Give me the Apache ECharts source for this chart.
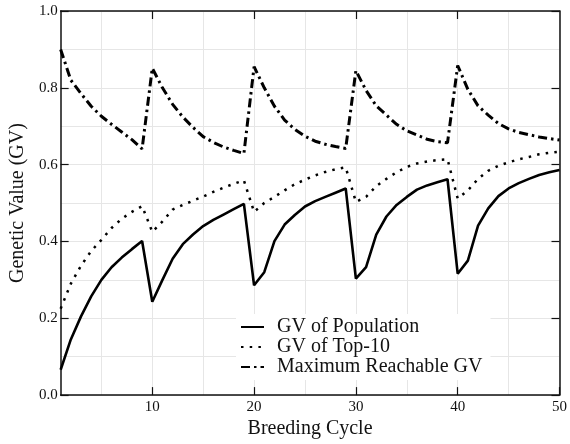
<!DOCTYPE html>
<html>
<head>
<meta charset="utf-8">
<script src="https://cdn.jsdelivr.net/npm/echarts@6/dist/echarts.min.js"></script>
<style>html,body{margin:0;padding:0;background:#fff}#c{width:570px;height:444px}</style>
</head>
<body>
<div id="c"></div>
<script>
// ---- data ----
const cycles = [1,2,3,4,5,6,7,8,9,10,11,12,13,14,15,16,17,18,19,20,21,22,23,24,25,26,27,28,29,30,31,32,33,34,35,36,37,38,39,40,41,42,43,44,45,46,47,48,49,50];
const gvPopulation = [
  0.066,0.145,0.205,0.257,0.300,0.333,0.358,0.380,0.401,
  0.243,0.300,0.355,0.393,0.418,0.440,0.456,0.470,0.484,0.498,
  0.286,0.320,0.401,0.444,0.469,0.491,0.505,0.516,0.527,0.538,
  0.303,0.333,0.418,0.465,0.495,0.516,0.535,0.546,0.554,0.562,
  0.316,0.350,0.441,0.486,0.518,0.538,0.552,0.563,0.573,0.580,0.586
];
const gvTop10 = [
  0.225,0.290,0.337,0.375,0.404,0.435,0.459,0.477,0.492,
  0.425,0.452,0.483,0.495,0.506,0.517,0.529,0.540,0.550,0.559,
  0.477,0.500,0.516,0.533,0.549,0.561,0.572,0.581,0.588,0.593,
  0.503,0.516,0.544,0.563,0.580,0.594,0.603,0.608,0.612,0.614,
  0.512,0.533,0.563,0.584,0.597,0.606,0.614,0.620,0.627,0.631,0.634
];
const gvMaxReachable = [
  0.900,0.820,0.785,0.752,0.726,0.705,0.685,0.665,0.641,
  0.851,0.800,0.757,0.724,0.697,0.673,0.658,0.646,0.637,0.629,
  0.855,0.800,0.752,0.716,0.692,0.674,0.661,0.653,0.647,0.642,
  0.845,0.793,0.753,0.729,0.705,0.688,0.677,0.666,0.660,0.657,
  0.858,0.796,0.753,0.729,0.707,0.693,0.684,0.678,0.672,0.668,0.664
];
const seriesNames = ['GV of Population','GV of Top-10','Maximum Reachable GV'];
const xTickLabels = [10,20,30,40,50];
const xTopTicks = [10,20,30,40];
const xGridValues = [5,10,15,20,25,30,35,40,45,50];
const yTickLabels = [0,0.2,0.4,0.6,0.8,1.0];

// ---- chart ----
const FONT = 'Liberation Serif';
const INK = '#111';
const pairs = ys => cycles.map((x, i) => [x, ys[i]]);
const chart = echarts.init(document.getElementById('c'), null, {renderer: 'canvas'});
const axisLineStyle = {color: INK, width: 1.5};
chart.setOption({
  animation: false,
  backgroundColor: '#fff',
  grid: {left: 58, right: 7, top: 11, bottom: 42, containLabel: false},
  xAxis: [
    {type: 'value', min: 1, max: 50, position: 'bottom',
     axisLine: {show: true, onZero: false, lineStyle: axisLineStyle},
     axisTick: {show: true, inside: true, length: 8, customValues: xTickLabels, lineStyle: {color: INK, width: 1.2}},
     axisLabel: {show: true, customValues: xTickLabels, margin: 4, fontFamily: FONT, fontSize: 15, color: INK},
     splitLine: {show: false},
     name: 'Breeding Cycle', nameLocation: 'middle', nameGap: 21,
     nameTextStyle: {fontFamily: FONT, fontSize: 20, color: INK}},
    {type: 'value', min: 1, max: 50, position: 'bottom',
     axisLine: {show: false}, axisTick: {show: false, customValues: xGridValues}, axisLabel: {show: false},
     splitLine: {show: true, lineStyle: {color: '#e6e6e6', width: 1}}},
    {type: 'value', min: 1, max: 50, position: 'top',
     axisLine: {show: true, onZero: false, lineStyle: axisLineStyle},
     axisTick: {show: true, inside: true, length: 8, customValues: xTopTicks, lineStyle: {color: INK, width: 1.2}},
     axisLabel: {show: false}, splitLine: {show: false}}
  ],
  yAxis: [
    {type: 'value', min: 0, max: 1, interval: 0.2, position: 'left',
     axisLine: {show: true, onZero: false, lineStyle: axisLineStyle},
     axisTick: {show: true, inside: true, length: 8, lineStyle: {color: INK, width: 1.2}},
     axisLabel: {show: true, margin: 3, fontFamily: FONT, fontSize: 15, color: INK,
                 formatter: v => v.toFixed(1)},
     splitLine: {show: false},
     name: 'Genetic Value (GV)', nameLocation: 'middle', nameGap: 23,
     nameTextStyle: {fontFamily: FONT, fontSize: 20, color: INK}},
    {type: 'value', min: 0, max: 1, interval: 0.1, position: 'left',
     axisLine: {show: false}, axisTick: {show: false}, axisLabel: {show: false},
     splitLine: {show: true, lineStyle: {color: '#e6e6e6', width: 1}}},
    {type: 'value', min: 0, max: 1, interval: 0.2, position: 'right',
     axisLine: {show: true, onZero: false, lineStyle: axisLineStyle},
     axisTick: {show: true, inside: true, length: 8, lineStyle: {color: INK, width: 1.2}},
     axisLabel: {show: false}, splitLine: {show: false}}
  ],
  legend: {
    orient: 'vertical', left: 236, top: 314,
    backgroundColor: '#fff', padding: [3, 8, 3, 4],
    itemWidth: 23, itemHeight: 12, itemGap: 0,
    itemStyle: {opacity: 0},
    textStyle: {fontFamily: FONT, fontSize: 20, lineHeight: 15.5, color: INK, padding: [0, 0, 0, 8]},
    data: seriesNames
  },
  series: [
    {name: seriesNames[0], type: 'line', data: pairs(gvPopulation), symbol: 'none',
     lineStyle: {color: '#000', width: 2.6, type: 'solid'}, itemStyle: {color: '#000'}, z: 3},
    {name: seriesNames[1], type: 'line', data: pairs(gvTop10), symbol: 'none',
     lineStyle: {color: '#000', width: 2.5, type: [2.5, 6.2]}, itemStyle: {color: '#000'}, z: 3},
    {name: seriesNames[2], type: 'line', data: pairs(gvMaxReachable), symbol: 'none',
     lineStyle: {color: '#000', width: 3, type: [9, 4, 2.5, 4]}, itemStyle: {color: '#000'}, z: 3}
  ]
});
</script>
</body>
</html>
